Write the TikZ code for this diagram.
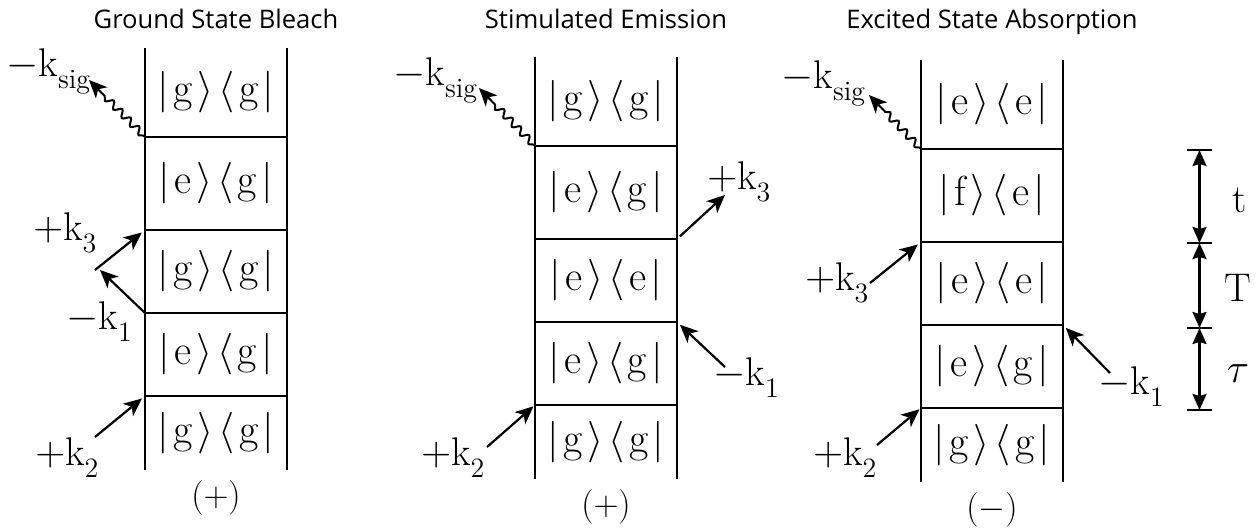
\documentclass[tikz,border=0pt]{standalone}
\usepackage{fontspec}
\newfontfamily\titlefont{Open Sans}
\usetikzlibrary{arrows.meta,decorations.pathmorphing}

\newcommand{\densm}[2]{$|\mkern2mu\mathrm{#1}\mkern2mu\rangle\mkern2mu\langle\mkern2mu\mathrm{#2}\mkern2mu|$}
\newcommand{\wv}[2]{$#1\mathrm{k}_{\lower2.5pt\hbox{$\scriptstyle\mathrm{#2}$}}$}

\tikzset{
  rail/.style={line width=1.1pt},
  dmbox/.style={font=\fontsize{21}{25}\selectfont,inner sep=0pt},
  klabel/.style={font=\fontsize{20}{24}\selectfont,inner sep=0pt,anchor=base west},
  pathtitle/.style={font=\titlefont\fontsize{12.8}{15}\selectfont,anchor=base},
  beam/.style={line width=1.1pt,-{Stealth[length=9pt,width=8pt,inset=2.5pt]}},
  sigbeam/.style={beam,line width=1pt,decorate,
    decoration={snake,amplitude=1.7pt,segment length=6pt,pre length=1pt,post length=9pt}},
  delaybar/.style={line width=1.1pt,
    {Stealth[length=8pt,width=7pt,inset=1pt]}-{Stealth[length=8pt,width=7pt,inset=1pt]}},
}

\begin{document}
\begin{tikzpicture}[x=0.5pt,y=-0.5pt]
  \useasboundingbox (0,0) rectangle (1260,529);
  % the three ladders
  \foreach \xl/\dy/\nn/\pathway/\sign/\states in {%
      145/0/gsb/{Ground State Bleach}/+/{g/g,e/g,g/g,e/g,g/g},
      535/9/se/{Stimulated Emission}/+/{g/g,e/g,e/e,e/g,g/g},
      921/12/esa/{Excited State Absorption}/-/{e/e,f/e,e/e,e/g,g/g}%
  }{%
    \draw[rail] (\xl,48+\dy) -- (\xl,470+\dy) (\xl+142,48+\dy) -- (\xl+142,470+\dy);
    \foreach \yr[count=\rr] in {137,230,313,396}
      \draw[rail] (\xl,\yr+\dy) coordinate (\nn-l\rr) -- (\xl+142,\yr+\dy) coordinate (\nn-r\rr);
    \foreach \ka/\kb[count=\rr] in \states {
      \pgfmathsetmacro\yc{{92,183,271,354,433}[\rr-1]}
      \node[dmbox] (\nn-s\rr) at (\xl+71,\yc+\dy) {\densm{\ka}{\kb}};
    }
    \node[pathtitle] (\nn-title) at (\xl+71,29) {\pathway};
    \node[font=\fontsize{19}{22}\selectfont] (\nn-sign) at (\xl+71,498+\dy) {$(\sign)$};
  }

  % Ground State Bleach
  \coordinate (gsb-ksig) at (89,80);
  \coordinate (gsb-k3) at (95,270);
  \coordinate (gsb-k1) at (100,270);
  \coordinate (gsb-k2) at (95,437);
  \draw[sigbeam] (gsb-l1) -- (gsb-ksig);
  \draw[beam,shorten >=2pt] (gsb-k3) -- (gsb-l2);
  \draw[beam] (gsb-l3) -- (gsb-k1);
  \draw[beam,shorten >=2pt] (gsb-k2) -- (gsb-l4);
  \node[klabel] (gsb-lsig) at (6,77) {\wv{-}{sig}};
  \node[klabel] (gsb-l3lab) at (33,241) {\wv{+}{3}};
  \node[klabel] (gsb-l1lab) at (66,330) {\wv{-}{1}};
  \node[klabel] (gsb-l2lab) at (35,466) {\wv{+}{2}};

  % Stimulated Emission
  \coordinate (se-ksig) at (479,88);
  \coordinate (se-k3) at (725,195);
  \coordinate (se-k1) at (725,367);
  \coordinate (se-k2) at (487,447);
  \draw[sigbeam] (se-l1) -- (se-ksig);
  \draw[beam,shorten <=2pt] (se-r2) -- (se-k3);
  \draw[beam,shorten >=2pt] (se-k1) -- (se-r3);
  \draw[beam,shorten >=1pt] (se-k2) -- (se-l4);
  \node[klabel] (se-lsig) at (393,86) {\wv{-}{sig}};
  \node[klabel] (se-l3lab) at (707,190) {\wv{+}{3}};
  \node[klabel] (se-l1lab) at (713,386) {\wv{-}{1}};
  \node[klabel] (se-l2lab) at (421,466) {\wv{+}{2}};

  % Excited State Absorption
  \coordinate (esa-ksig) at (869,95);
  \coordinate (esa-k3) at (870,283);
  \coordinate (esa-k1) at (1110,373);
  \coordinate (esa-k2) at (877,445);
  \draw[sigbeam] (esa-l1) -- (esa-ksig);
  \draw[beam,shorten >=2pt] (esa-k3) -- (esa-l2);
  \draw[beam,shorten >=2pt] (esa-k1) -- (esa-r3);
  \draw[beam,shorten >=1pt] (esa-k2) -- (esa-l4);
  \node[klabel] (esa-lsig) at (781,89) {\wv{-}{sig}};
  \node[klabel] (esa-l3lab) at (805,291) {\wv{+}{3}};
  \node[klabel] (esa-l1lab) at (1098,395) {\wv{-}{1}};
  \node[klabel] (esa-l2lab) at (813,466) {\wv{+}{2}};

  % time intervals
  \foreach \yt[count=\ii] in {150,243,328,410}
    \draw[rail] (1187,\yt) -- coordinate (tick\ii) (1212,\yt);
  \draw[delaybar] (tick1) -- (tick2);
  \draw[delaybar] (tick2) -- (tick3);
  \draw[delaybar] (tick3) -- (tick4);
  \node[klabel,anchor=base] (t3) at (1240,213) {$\mathrm{t}$};
  \node[klabel,anchor=base] (t2) at (1238,302) {$\mathrm{T}$};
  \node[klabel,anchor=base] (t1) at (1238,383) {$\tau$};
\end{tikzpicture}
\end{document}
